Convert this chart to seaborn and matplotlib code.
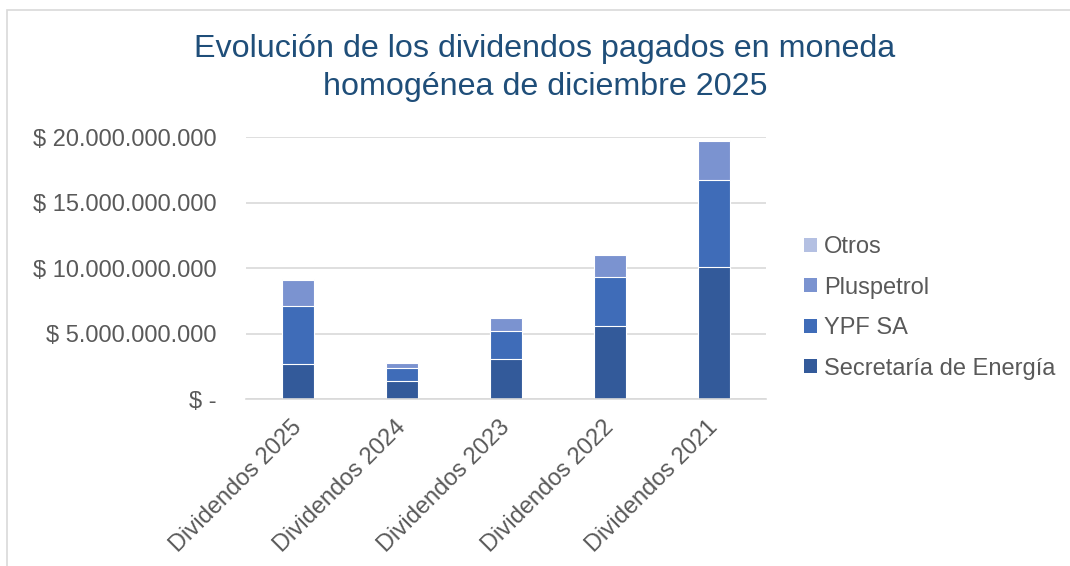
import matplotlib.pyplot as plt
import matplotlib.ticker as mticker
from matplotlib.patches import Patch, Rectangle
import seaborn as sns
import pandas as pd
import numpy as np

sns.set_theme(style="white")
plt.rcParams['font.family'] = ['Liberation Sans', 'DejaVu Sans']

# data (in pesos)
categorias = ['Dividendos 2025', 'Dividendos 2024', 'Dividendos 2023', 'Dividendos 2022', 'Dividendos 2021']
secretaria = [2.70e9, 1.40e9, 3.05e9, 5.57e9, 10.05e9]
ypf = [4.40e9, 0.97e9, 2.14e9, 3.77e9, 6.70e9]
pluspetrol = [2.01e9, 0.41e9, 0.99e9, 1.65e9, 2.98e9]
otros = [0.02e9, 0.01e9, 0.02e9, 0.02e9, 0.03e9]

series = ['Secretaría de Energía', 'YPF SA', 'Pluspetrol', 'Otros']
colores = ['#335A9A', '#3F6CB8', '#7B93D0', '#B4C0E2']

df = pd.DataFrame({'categoria': categorias,
                   'Secretaría de Energía': secretaria,
                   'YPF SA': ypf,
                   'Pluspetrol': pluspetrol,
                   'Otros': otros})
cum = df[series].cumsum(axis=1)

fig = plt.figure(figsize=(10.7, 5.66), dpi=100)
ax = fig.add_axes([246 / 1070, 1 - 399 / 566, (766 - 246) / 1070, (399 - 137.2) / 566])

# stacked bars: draw cumulative totals from the top series down
for s, c in reversed(list(zip(series, colores))):
    sns.barplot(x=df['categoria'], y=cum[s], color=c, width=0.31, ax=ax,
                edgecolor='white', linewidth=0.8, saturation=1)

ax.set_ylim(0, 20e9)
ax.set_yticks([0, 5e9, 10e9, 15e9, 20e9])


def fmt(v, pos):
    if v == 0:
        return '$ -'
    return '$ ' + f'{v:,.0f}'.replace(',', '.')


ax.yaxis.set_major_formatter(mticker.FuncFormatter(fmt))
ax.grid(axis='y', color='#D9D9D9', linewidth=1.2)
ax.set_axisbelow(True)
for sp in ['top', 'right', 'left']:
    ax.spines[sp].set_visible(False)
ax.spines['bottom'].set_color('#D9D9D9')
ax.spines['bottom'].set_linewidth(1.2)
ax.set_xlabel('')
ax.set_ylabel('')
ax.tick_params(axis='y', length=0, pad=21, labelsize=17, labelcolor='#595959')
ax.tick_params(axis='x', length=0, pad=18, labelsize=17, labelcolor='#595959')
plt.setp(ax.get_xticklabels(), rotation=45, ha='right', va='center', rotation_mode='anchor')

fig.text(545 / 1070, 1 - 68 / 566,
         'Evolución de los dividendos pagados en moneda\nhomogénea de diciembre 2025',
         ha='center', va='center', fontsize=23.2, color='#1F4E79', linespacing=1.34)

handles = [Patch(facecolor=c, edgecolor='none', label=s)
           for s, c in reversed(list(zip(series, colores)))]
fig.legend(handles=handles, loc='upper left', bbox_to_anchor=(783 / 1070, 1 - 215 / 566),
           frameon=False, fontsize=17, labelcolor='#595959', handlelength=0.55,
           handleheight=0.55, handletextpad=0.28, labelspacing=0.78)

# outer chart frame
fig.patches.append(Rectangle((7 / 1070, -0.1), 1.2, 1 - 10 / 566 + 0.1,
                             transform=fig.transFigure, fill=False,
                             edgecolor='#D9D9D9', linewidth=1.2))

fig.savefig('out.png', dpi=100, facecolor='white')
